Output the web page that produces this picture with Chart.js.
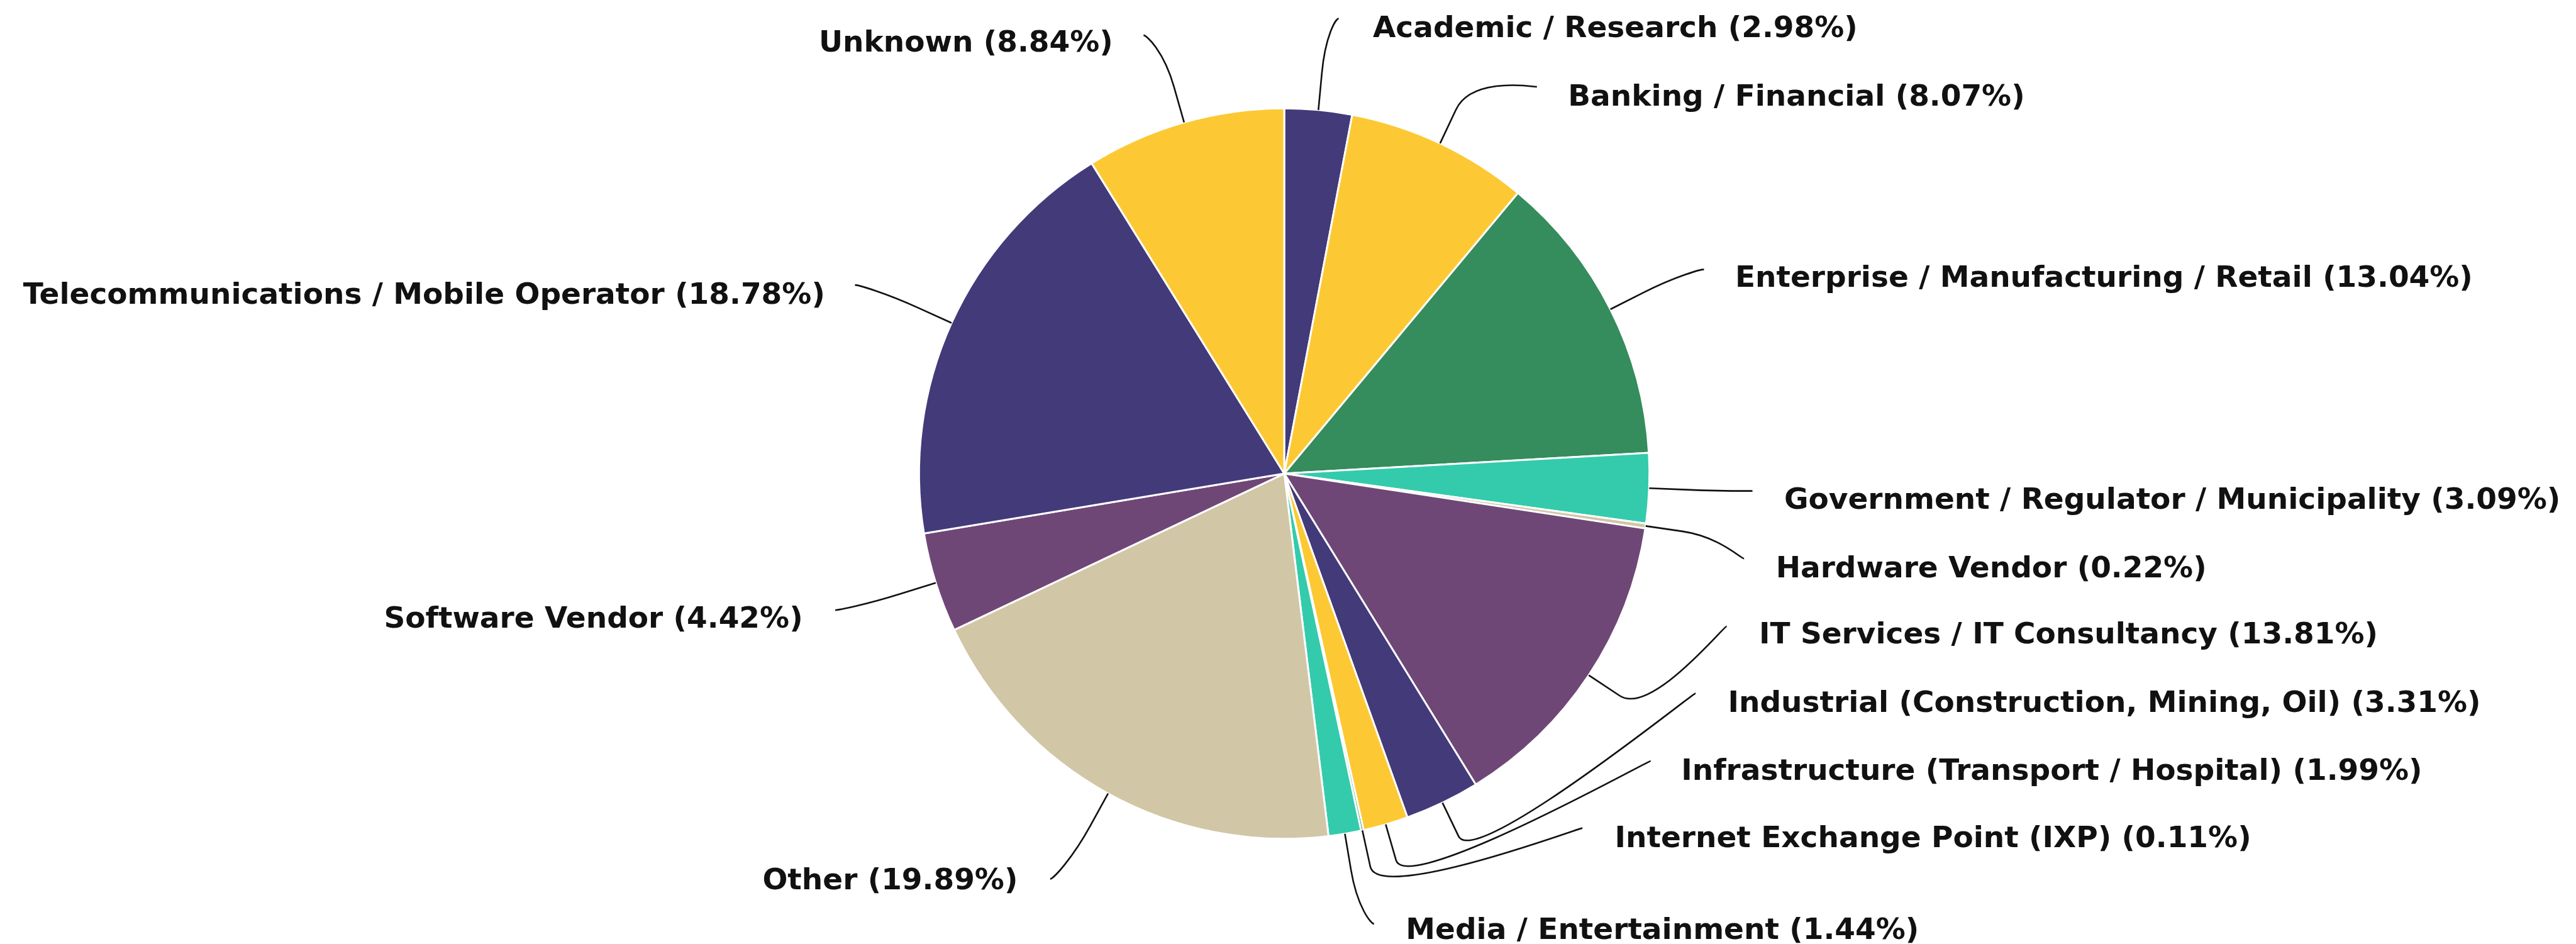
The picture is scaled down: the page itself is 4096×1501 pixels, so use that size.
<!DOCTYPE html>
<html>

<head>
    <title>Sector breakdown</title>
    <script src="https://cdn.jsdelivr.net/npm/chart.js"></script>
    <style>
        html, body { margin: 0; padding: 0; background: #fff; }
        #wrap { width: 4096px; height: 1501px; }
    </style>
</head>

<body>
    <div id="wrap">
        <canvas id="sectorPie" width="4096" height="1501"></canvas>
    </div>
    <script>
        // data
        const sectors = [
            'Academic / Research',
            'Banking / Financial',
            'Enterprise / Manufacturing / Retail',
            'Government / Regulator / Municipality',
            'Hardware Vendor',
            'IT Services / IT Consultancy',
            'Industrial (Construction, Mining, Oil)',
            'Infrastructure (Transport / Hospital)',
            'Internet Exchange Point (IXP)',
            'Media / Entertainment',
            'Other',
            'Software Vendor',
            'Telecommunications / Mobile Operator',
            'Unknown'
        ];
        const shares = [2.98, 8.07, 13.04, 3.09, 0.22, 13.81, 3.31, 1.99, 0.11, 1.44, 19.89, 4.42, 18.78, 8.84];

        // colours repeat every six slices
        const palette = ['#433a7a', '#fcc935', '#358c5c', '#33cbac', '#d1c6a6', '#6f4777'];

        // layout, in reference pixels (scaled by S below)
        // [connector end x, connector end y, text x, text middle y]
        const labelPos = [
            [2236, 31, 2293, 44],
            [2567, 145, 2619, 158],
            [2846, 450, 2898, 461],
            [2927, 820, 2980, 832],
            [2913, 933, 2966, 946],
            [2884, 1046, 2938, 1057],
            [2832, 1158, 2886, 1171],
            [2757, 1271, 2808, 1285],
            [2643, 1383, 2697, 1397],
            [2295, 1543, 2348, 1550],
            [1754, 1468, 1700, 1467],
            [1395, 1019, 1341, 1030],
            [1428, 476, 1378, 489],
            [1910, 59, 1859, 68]
        ];

        const S = 0.952;
        const W = 4096, H = 1501;
        const cx = 2145 * S, cy = 791 * S, R = 610 * S;
        const fontSize = 47;

        // draws the outside labels and their connectors
        const pieLabels = {
            id: 'pieLabels',
            afterDraw(chart) {
                const ctx = chart.ctx;
                const arcs = chart.getDatasetMeta(0).data;
                ctx.save();
                ctx.lineWidth = 2.6;
                ctx.strokeStyle = '#111';
                ctx.fillStyle = '#111';
                ctx.font = 'bold ' + fontSize + 'px "DejaVu Sans"';
                arcs.forEach((arc, i) => {
                    const p = arc.getProps(['x', 'y', 'startAngle', 'endAngle', 'outerRadius'], true);
                    const mid = (p.startAngle + p.endAngle) / 2;
                    const tx = p.x + Math.cos(mid) * p.outerRadius;
                    const ty = p.y + Math.sin(mid) * p.outerRadius;
                    const off = 62 * S;
                    const bx = p.x + Math.cos(mid) * (p.outerRadius + off);
                    const by = p.y + Math.sin(mid) * (p.outerRadius + off);
                    const lp = labelPos[i];
                    const ex = lp[0] * S, ey = lp[1] * S;
                    const leftSide = lp[2] < lp[0];

                    ctx.beginPath();
                    ctx.moveTo(ex, ey);
                    ctx.bezierCurveTo(ex + (leftSide ? 5 : -5), ey, 2 * bx - tx, 2 * by - ty, bx, by);
                    ctx.lineTo(tx, ty);
                    ctx.stroke();

                    const text = sectors[i] + ' (' + shares[i].toFixed(2) + '%)';
                    ctx.textAlign = leftSide ? 'right' : 'left';
                    ctx.textBaseline = 'alphabetic';
                    ctx.fillText(text, lp[2] * S, lp[3] * S + 0.3645 * fontSize);
                });
                ctx.restore();
            }
        };

        const ctx = document.getElementById('sectorPie').getContext('2d');
        const sectorPie = new Chart(ctx, {
            type: 'pie',
            data: {
                labels: sectors,
                datasets: [{
                    data: shares,
                    backgroundColor: sectors.map((s, i) => palette[i % palette.length]),
                    borderColor: '#ffffff',
                    borderWidth: 3
                }]
            },
            options: {
                responsive: false,
                animation: false,
                radius: R,
                layout: {
                    padding: { left: 0, top: 2 * cy - H, right: W - 2 * cx, bottom: 0 }
                },
                plugins: {
                    legend: { display: false },
                    tooltip: { enabled: false }
                }
            },
            plugins: [pieLabels]
        });
    </script>
</body>

</html>
